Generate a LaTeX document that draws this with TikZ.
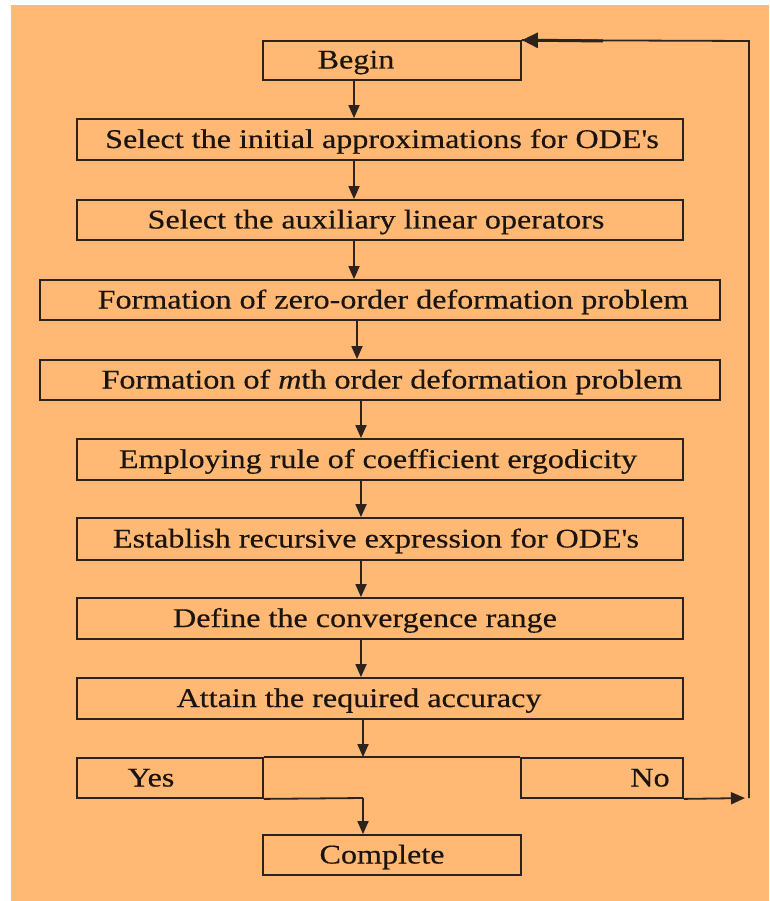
\documentclass[tikz,border=0pt]{standalone}
\usepackage{fontspec}
\setmainfont{Liberation Serif}[FakeStretch=1.19,FakeBold=0.4]
\usetikzlibrary{arrows.meta}
\definecolor{bg}{RGB}{255,185,116}
\definecolor{lncol}{RGB}{45,35,28}
\definecolor{txcol}{RGB}{25,20,15}
\begin{document}
\begin{tikzpicture}[x=1pt,y=-1pt,
  box/.style={draw=lncol, line width=1.8pt, inner sep=0pt, rectangle},
  txt/.style={anchor=base, inner sep=0pt, text=txcol, font=\fontsize{27}{27}\selectfont},
  arr/.style={draw=lncol, line width=1.8pt, -{Triangle[length=13pt,width=11pt]}},
  plain/.style={draw=lncol, line width=1.8pt}
]
\useasboundingbox (0,0) rectangle (769,901);
\fill[bg] (11,5) rectangle (769,901);

% boxes
\node[box, minimum width=258pt, minimum height=39pt] (begin) at (392,60.5) {};
\node[box, minimum width=606pt, minimum height=41pt] (b1) at (380,139.5) {};
\node[box, minimum width=606pt, minimum height=40pt] (b2) at (380,220) {};
\node[box, minimum width=680pt, minimum height=40pt] (b3) at (380,300) {};
\node[box, minimum width=680pt, minimum height=40pt] (b4) at (380,380) {};
\node[box, minimum width=606pt, minimum height=41pt] (b5) at (380,459.5) {};
\node[box, minimum width=606pt, minimum height=42pt] (b6) at (380,539) {};
\node[box, minimum width=606pt, minimum height=41pt] (b7) at (380,618.5) {};
\node[box, minimum width=606pt, minimum height=41pt] (b8) at (380,698.5) {};
\node[box, minimum width=186pt, minimum height=40pt] (yes) at (170,778) {};
\node[box, minimum width=162pt, minimum height=40pt] (no) at (602,778) {};
\node[box, minimum width=258pt, minimum height=40pt] (complete) at (392,855) {};

% texts
\node[txt] (tbegin) at (356,68.5) {Begin};
\node[txt] (t1) at (382,148) {Select the initial approximations for ODE\textquotesingle s};
\node[txt] (t2) at (376,228.5) {Select the auxiliary linear operators};
\node[txt] (t3) at (393,308.5) {Formation of zero-order deformation problem};
\node[txt] (t4) at (392,388.5) {Formation of \textit{m}th order deformation problem};
\node[txt] (t5) at (378,468) {Employing rule of coefficient ergodicity};
\node[txt] (t6) at (376,547.5) {Establish recursive expression for ODE\textquotesingle s};
\node[txt] (t7) at (365,627) {Define the convergence range};
\node[txt] (t8) at (359,707) {Attain the required accuracy};
\node[txt] (tyes) at (151,786.5) {Yes};
\node[txt] (tno) at (650,786.5) {No};
\node[txt] (tcomplete) at (382,863.5) {Complete};

% arrow columns
\coordinate (ca) at (354,0);
\coordinate (cb) at (357,0);
\coordinate (cc) at (361,0);
\coordinate (cd) at (363,0);

\draw[arr] (begin.south -| ca) -- (b1.north -| ca);
\draw[arr] (b1.south -| ca) -- (b2.north -| ca);
\draw[arr] (b2.south -| ca) -- (b3.north -| ca);
\draw[arr] (b3.south -| cb) -- (b4.north -| cb);
\draw[arr] (b4.south -| cc) -- (b5.north -| cc);
\draw[arr] (b5.south -| cc) -- (b6.north -| cc);
\draw[arr] (b6.south -| cc) -- (b7.north -| cc);
\draw[arr] (b7.south -| cc) -- (b8.north -| cc);
\draw[arr] (b8.south -| cd) -- (yes.north -| cd);

% decision row middle part
\draw[plain] (yes.north east) -- (no.north west);

% yes -> complete
\coordinate (j) at (363,798);
\draw[plain] (yes.south east) -- (j);
\draw[arr] (j) -- (complete.north -| j);

% no -> loop back to begin
\coordinate (r1) at (749,798);
\coordinate (r2) at (749,41);
\coordinate (r3) at (603,41);
\draw[arr, -{Triangle[length=14pt,width=12pt]}, shorten >=4pt] (no.south east) -- (r1);
\draw[plain] (r1) -- (r2) -- (begin.north east);
\draw[draw=lncol, line width=3pt, -{Triangle[length=16pt,width=15pt]}] (r3) -- (begin.north east);
\end{tikzpicture}
\end{document}
